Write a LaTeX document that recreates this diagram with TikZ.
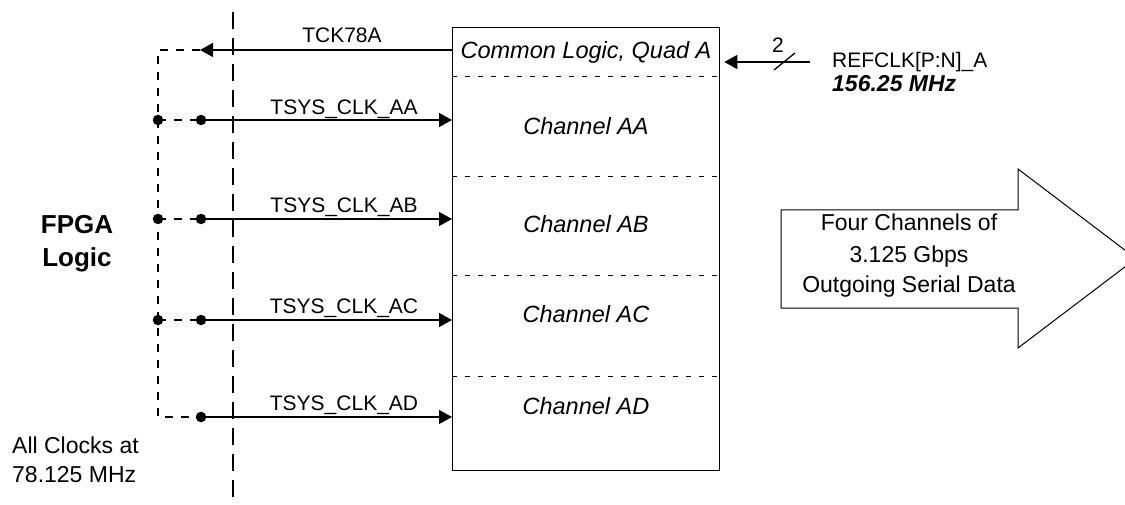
\documentclass[tikz,border=0pt]{standalone}
\usepackage{fontspec}
\setmainfont{Liberation Sans}
\usetikzlibrary{arrows.meta}
\begin{document}
\begin{tikzpicture}[x=1pt,y=-1pt,
  wire/.style={line width=1.3pt},
  sig/.style={wire,-{Triangle[length=13pt,width=14pt]}},
  dsh/.style={wire,dash pattern=on 8pt off 8pt},
  sep/.style={line width=0.8pt,dash pattern=on 5pt off 8pt},
  dot/.style={circle,fill,inner sep=0pt,minimum size=10.5pt},
  lbl/.style={anchor=base,inner sep=0pt,font=\fontsize{21}{25}\selectfont},
  chn/.style={anchor=base,inner sep=0pt,font=\fontsize{23.5}{28}\selectfont\itshape},
  txt/.style={anchor=base,inner sep=0pt,font=\fontsize{23}{28}\selectfont},
]
\useasboundingbox (0,0) rectangle (1125,505);
\clip (0,0) rectangle (1125,505);

% main box
\node[draw,wire,minimum width=267pt,minimum height=443pt,inner sep=0pt,anchor=north west] (box) at (452,27) {};
\draw[sep] (452,76) -- (719,76);
\draw[sep] (452,176) -- (719,176);
\draw[sep] (452,275) -- (719,275);
\draw[sep] (452,376) -- (719,376);

\node[chn] (common) at (586,59) {Common Logic, Quad A};
\node[chn] (chAA) at (586,135) {Channel AA};
\node[chn] (chAB) at (586,233) {Channel AB};
\node[chn] (chAC) at (586,323) {Channel AC};
\node[chn] (chAD) at (586,414) {Channel AD};

% boundary line
\draw[wire,dash pattern=on 17pt off 9pt] (233,12) -- (233,505);

% dots
\node[dot] (lAA) at (158,120) {};
\node[dot] (lAB) at (158,219) {};
\node[dot] (lAC) at (158,320) {};
\coordinate (lAD) at (158,417);
\node[dot] (rAA) at (201,120) {};
\node[dot] (rAB) at (201,219) {};
\node[dot] (rAC) at (201,320) {};
\node[dot] (rAD) at (201,417) {};
\coordinate (tckEnd) at (200,50);
\coordinate (tckCorner) at (158,50);

% TCK78A
\draw[sig] (box.west |- tckEnd) -- (tckEnd);
\draw[dsh] (tckEnd) -- (tckCorner) -- (lAD) -- (rAD.center);
\foreach \r in {AA,AB,AC}{\draw[dsh] (l\r.center) -- (r\r.center);}
\foreach \r in {AA,AB,AC,AD}{\draw[sig] (r\r.center) -- (box.west |- r\r);}

\node[lbl] (tck) at (342,43) {TCK78A};
\node[lbl] (tAA) at (344,115) {TSYS\_CLK\_AA};
\node[lbl] (tAB) at (344,213) {TSYS\_CLK\_AB};
\node[lbl] (tAC) at (344,313) {TSYS\_CLK\_AC};
\node[lbl] (tAD) at (344,410) {TSYS\_CLK\_AD};

% left texts
\node[anchor=base,inner sep=0pt,font=\fontsize{26}{30}\selectfont\bfseries] (fpga) at (77,234) {FPGA};
\node[anchor=base,inner sep=0pt,font=\fontsize{26}{30}\selectfont\bfseries] (logic) at (77,266) {Logic};
\node[txt,anchor=base west] (clk1) at (12,453) {All Clocks at};
\node[txt,anchor=base west] (clk2) at (12,482) {78.125 MHz};

% REFCLK
\coordinate (refsrc) at (810,62);
\draw[sig,shorten >=4pt] (refsrc) -- (box.east |- refsrc);
\draw[wire] (774,70) -- (795,53);
\node[lbl] (two) at (778,53) {2};
\node[lbl,anchor=base west] (ref) at (832,68) {REFCLK[P:N]\_A};
\node[txt,anchor=base west,font=\fontsize{23}{28}\selectfont\bfseries\itshape] (mhz) at (832,92) {156.25 MHz};

% big arrow
\draw[line width=1pt] (781,210) -- (1018,210) -- (1018,169) -- (1136,258.5) -- (1018,348) -- (1018,308) -- (781,308) -- cycle;
\node[txt] (a1) at (909,231) {Four Channels of};
\node[txt] (a2) at (909,262) {3.125 Gbps};
\node[txt] (a3) at (909,293) {Outgoing Serial Data};
\end{tikzpicture}
\end{document}
